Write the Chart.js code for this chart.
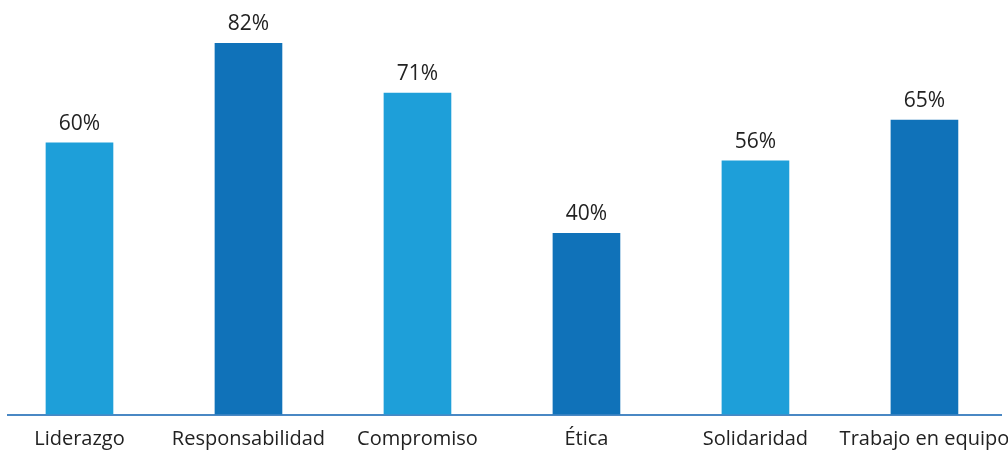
<!DOCTYPE html>
<html>
<head>
<meta charset="utf-8">
<script src="https://cdn.jsdelivr.net/npm/chart.js@4.4.1/dist/chart.umd.min.js"></script>
<style>
  html, body { margin: 0; padding: 0; background: #fff; }
  #wrap { width: 1008px; height: 450px; }
</style>
</head>
<body>
<div id="wrap"><canvas id="chart" width="1008" height="450"></canvas></div>
<script>
// datos
const categories = ["Liderazgo", "Responsabilidad", "Compromiso", "Ética", "Solidaridad", "Trabajo en equipo"];
const values = [60, 82, 71, 40, 56, 65];
const barColors = ["#1e9fd9", "#1072b9", "#1e9fd9", "#1072b9", "#1e9fd9", "#1072b9"];

const FONT = "'Open Sans', sans-serif";

// etiquetas de valor encima de cada barra
const valueLabels = {
  id: "valueLabels",
  afterDatasetsDraw(chart) {
    const ctx = chart.ctx;
    const meta = chart.getDatasetMeta(0);
    ctx.save();
    ctx.fillStyle = "#222";
    ctx.font = "21px " + FONT;
    ctx.textAlign = "center";
    ctx.textBaseline = "alphabetic";
    meta.data.forEach((bar, i) => {
      ctx.fillText(values[i] + "%", bar.x, bar.y - 13);
    });
    ctx.restore();
  }
};

new Chart(document.getElementById("chart"), {
  type: "bar",
  data: {
    datasets: [{
      data: values.map((v, i) => ({ x: i, y: v })),
      backgroundColor: barColors,
      barThickness: 67
    }]
  },
  options: {
    responsive: false,
    animation: false,
    layout: { padding: { left: 8, right: 7, top: 7, bottom: 0 } },
    plugins: { legend: { display: false }, tooltip: { enabled: false } },
    scales: {
      x: {
        type: "linear",
        offset: false,
        min: -0.423,
        max: 5.453,
        afterBuildTicks: (axis) => {
          axis.ticks = categories.map((c, i) => ({ value: i }));
        },
        afterFit: (axis) => {
          axis.height = 35.5;
          axis.paddingLeft = 0;
          axis.paddingRight = 0;
        },
        grid: { display: false, drawTicks: false, tickLength: 0 },
        border: { display: true, color: "#4a88c4", width: 2 },
        ticks: {
          autoSkip: false,
          maxRotation: 0,
          padding: 13,
          color: "#222",
          font: { family: FONT, size: 20 },
          callback: (v) => categories[v]
        }
      },
      y: {
        display: false,
        min: 0,
        max: 90
      }
    }
  },
  plugins: [valueLabels]
});
</script>
</body>
</html>
